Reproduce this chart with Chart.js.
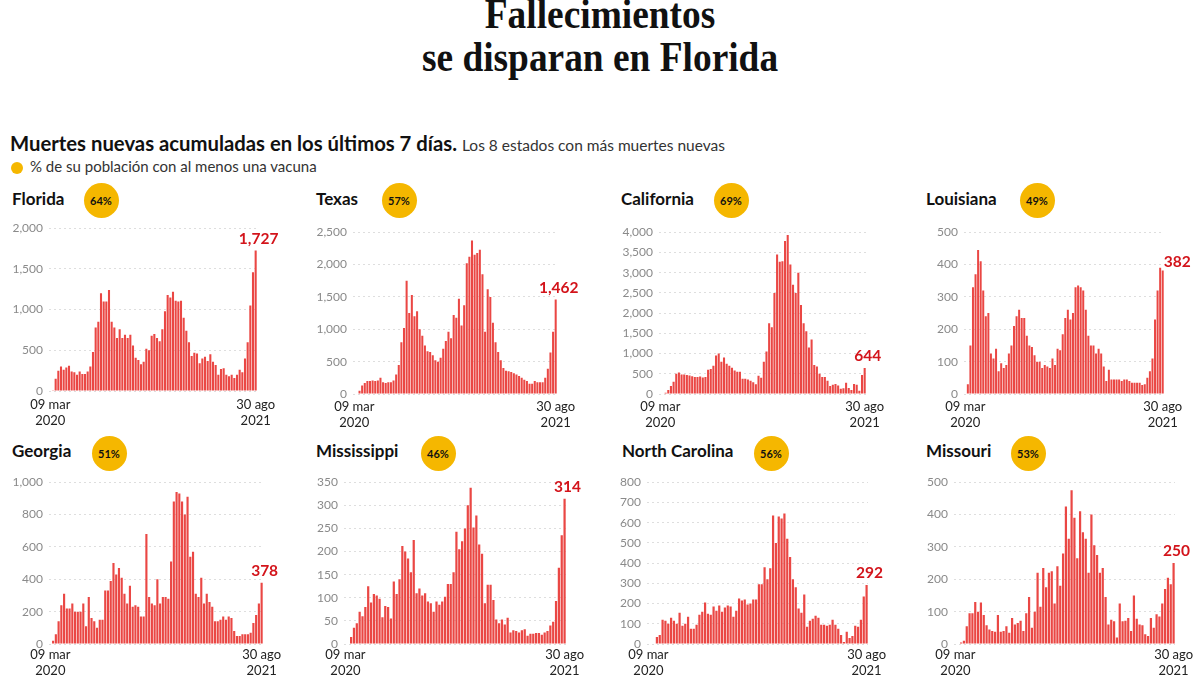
<!DOCTYPE html>
<html><head><meta charset="utf-8">
<script src="https://cdn.jsdelivr.net/npm/chart.js@4"></script>
<style>
body{margin:0;width:1200px;height:675px;background:#fff;position:relative;overflow:hidden;font-family:Lato,sans-serif;color:#111;}
.t{position:absolute;white-space:nowrap;}
.title{position:absolute;left:0;width:1200px;text-align:center;font-family:"Liberation Serif",serif;font-weight:bold;font-size:42px;height:42px;line-height:42px;transform:scaleX(0.89);transform-origin:600px 50%;color:#111;}
.badge{position:absolute;width:35px;height:35px;border-radius:50%;background:#f5b700;font-weight:bold;font-size:11px;line-height:35px;text-align:center;color:#111;}
.ptitle{position:absolute;font-weight:bold;font-size:17px;height:20px;line-height:20px;color:#111;}
.cw{position:absolute;}
</style></head><body>
<div class="title" style="top:-7px">Fallecimientos</div>
<div class="title" style="top:36px">se disparan en Florida</div>
<div class="t" style="left:10px;top:131px;height:24px;line-height:24px;font-size:20.3px;font-weight:bold;">Muertes nuevas acumuladas en los últimos 7 días. <span style="font-weight:normal;font-size:15.5px;color:#333;">Los 8 estados con más muertes nuevas</span></div>
<div style="position:absolute;left:11px;top:162px;width:12px;height:12px;border-radius:50%;background:#f5b700;"></div>
<div class="t" style="left:30px;top:157px;height:18px;line-height:18px;font-size:15px;color:#333;">% de su población con al menos una vacuna</div>
<script>
// ---- categories: weekly dates from 09 mar 2020 to 30 ago 2021 ----
const weekStart = new Date(Date.UTC(2020, 2, 9));
const weeks = [];
for (let i = 0; i < 78; i++) { const d = new Date(weekStart.getTime() + i * 7 * 864e5); weeks.push(d.toISOString().slice(0, 10)); }
const xFirstLabel = ['09 mar', '2020'];
const xLastLabel = ['30 ago', '2021'];

// ---- series (weekly new deaths, 7-day sums) ----
const florida = [0,10,150,250,300,260,290,310,240,230,200,240,210,210,240,300,480,780,850,1200,1100,1100,1240,850,780,650,760,650,690,650,690,560,410,380,330,360,520,500,680,700,650,610,760,980,1180,1150,1220,1110,1100,1110,900,740,600,430,470,460,340,400,420,370,450,360,320,200,270,280,200,180,200,160,200,260,230,400,600,1050,1460,1727];
const texas = [0,0,50,130,170,200,200,210,200,210,250,180,170,180,180,210,300,450,800,1020,1750,1250,1530,1200,1280,1000,900,750,660,650,600,520,500,560,700,820,960,860,1220,1180,1470,1060,1370,2020,2120,2370,2150,2180,2230,1850,960,1620,1500,1100,800,650,520,400,360,350,340,320,300,280,250,220,200,160,160,200,180,180,180,250,390,640,960,1462];
const california = [0,0,30,100,200,300,500,530,480,480,470,460,440,420,420,430,410,420,600,620,700,950,1000,800,900,750,700,650,580,550,550,380,380,360,330,290,240,450,400,800,1050,1750,1650,2500,3450,3270,3280,3780,3930,3200,2700,2500,3000,2200,1750,1550,1150,1350,720,680,500,420,420,330,200,230,250,210,130,140,280,150,100,250,230,80,470,644];
const louisiana = [0,30,150,330,370,445,410,320,240,250,125,110,140,70,95,80,90,125,150,210,240,260,235,235,180,150,145,120,100,100,80,90,85,80,110,90,140,135,185,235,260,230,250,330,335,330,320,260,180,150,150,125,140,125,85,40,75,45,45,45,45,40,45,45,40,35,35,35,35,28,30,50,70,110,230,320,390,382];
const georgia = [0,20,60,140,240,310,220,220,250,200,200,200,250,110,290,160,140,100,150,150,330,330,390,500,430,470,410,310,250,360,230,240,230,170,170,680,290,250,240,400,250,290,290,280,510,880,940,930,880,800,910,540,570,310,290,410,250,310,260,230,140,140,150,170,150,170,160,80,50,50,60,60,60,70,130,180,250,378];
const mississippi = [0,0,15,35,45,70,60,80,125,90,108,105,98,58,82,80,55,135,108,140,212,200,185,155,225,110,120,105,110,92,88,70,92,85,92,102,130,130,155,243,205,222,250,300,338,252,278,215,195,88,128,128,95,53,45,53,42,57,25,30,28,25,30,32,18,22,22,24,24,20,25,28,40,48,93,165,235,314];
const northCarolina = [0,0,0,35,45,120,115,100,130,115,100,155,90,100,135,75,75,95,145,160,205,150,145,185,165,190,160,180,190,185,135,165,225,215,220,195,200,220,220,295,295,380,320,375,635,500,630,620,645,520,430,320,280,175,155,245,85,115,125,140,130,95,95,90,95,120,95,75,45,10,60,30,40,90,85,120,235,292];
const missouri = [0,0,5,10,55,95,95,130,100,128,90,58,45,40,38,90,38,40,55,35,80,60,65,72,40,95,145,50,100,220,115,235,175,220,225,125,240,180,280,425,325,475,390,265,410,345,325,220,400,305,275,220,235,145,60,75,70,20,125,70,72,80,40,150,78,60,58,30,25,80,50,92,85,125,170,205,185,250];

// ---- names, vaccination share, y-axis maxima / steps ----
const stateNames = ['Florida','Texas','California','Louisiana','Georgia','Mississippi','North Carolina','Missouri'];
const vaccinated = ['64%','57%','69%','49%','51%','46%','56%','53%'];
const yMax = [2000,2500,4000,500,1000,350,800,500];
const yStep = [500,500,500,100,200,50,100,100];
const seriesList = [florida, texas, california, louisiana, georgia, mississippi, northCarolina, missouri];

// ---- layout (positions only) ----
const layoutPanels = [
  {cl:0,   pL:49,  pR:257,  pT:227, pB:391, tx:12,  ty:189, bx:101,  by:200, xpad:6},
  {cl:305, pL:353, pR:557,  pT:231, pB:394, tx:316, ty:189, bx:399,  by:200, xpad:5},
  {cl:610, pL:659, pR:866,  pT:231, pB:394, tx:621, ty:189, bx:731,  by:200, xpad:5},
  {cl:915, pL:964, pR:1164, pT:231, pB:394, tx:926, ty:189, bx:1037, by:200, xpad:5, side:'right'},
  {cl:0,   pL:49,  pR:263,  pT:481, pB:644, tx:12,  ty:441, bx:109,  by:453, xpad:3},
  {cl:305, pL:344, pR:566,  pT:481, pB:644, tx:316, ty:441, bx:438,  by:453, xpad:3},
  {cl:610, pL:647, pR:868,  pT:481, pB:644, tx:622, ty:441, bx:771,  by:453, xpad:3},
  {cl:915, pL:954, pR:1175, pT:481, pB:644, tx:926, ty:441, bx:1028, by:453, xpad:3}
];

const BAR = '#ea4744';
const RED = '#d3141b';

const valueLabel = {
  id: 'vl',
  afterDatasetsDraw(chart) {
    const o = chart.options.plugins.vl || {};
    const meta = chart.getDatasetMeta(0);
    const i = meta.data.length - 1;
    const bar = meta.data[i];
    const v = chart.data.datasets[0].data[i];
    const ctx = chart.ctx;
    ctx.save();
    ctx.font = 'bold 15.5px Lato';
    ctx.fillStyle = RED;
    const txt = v.toLocaleString('en-US');
    if (o.side === 'right') {
      ctx.textAlign = 'left'; ctx.textBaseline = 'bottom';
      ctx.fillText(txt, bar.x + 1, bar.y - 1);
    } else {
      ctx.textAlign = 'center'; ctx.textBaseline = 'bottom';
      ctx.fillText(txt, bar.x + 3, bar.y - 4);
    }
    ctx.restore();
  }
};

layoutPanels.forEach((p, k) => {
  const t = document.createElement('div');
  t.className = 'ptitle'; t.style.left = p.tx + 'px'; t.style.top = p.ty + 'px';
  t.textContent = stateNames[k]; document.body.appendChild(t);
  const b = document.createElement('div');
  b.className = 'badge'; b.style.left = (p.bx - 17.5) + 'px'; b.style.top = (p.by - 17.5) + 'px';
  b.textContent = vaccinated[k]; document.body.appendChild(b);

  const padTop = 12, xh = 40;
  const ct = p.pT - padTop;
  const cw = (p.cl === 915) ? 285 : 295;
  const ch = p.pB - ct + xh;
  const wrap = document.createElement('div');
  wrap.className = 'cw';
  wrap.style.left = p.cl + 'px'; wrap.style.top = ct + 'px';
  wrap.style.width = cw + 'px'; wrap.style.height = ch + 'px';
  const c = document.createElement('canvas');
  wrap.appendChild(c); document.body.appendChild(wrap);
  const N = weeks.length;
  new Chart(c, {
    type: 'bar',
    data: { labels: weeks, datasets: [{ data: seriesList[k], backgroundColor: BAR, barPercentage: 0.78, categoryPercentage: 1 }] },
    options: {
      responsive: true, maintainAspectRatio: false, animation: false, events: [],
      layout: { padding: { top: padTop, right: p.cl + cw - p.pR, left: 0, bottom: 0 } },
      plugins: { legend: { display: false }, tooltip: { enabled: false }, vl: { side: p.side } },
      scales: {
        x: {
          grid: { display: false, drawTicks: false }, border: { display: false },
          ticks: { autoSkip: false, maxRotation: 0, padding: p.xpad, color: '#222', font: { family: 'Lato', size: 13 },
            callback: (v) => v === 0 ? xFirstLabel : (v === N - 1 ? xLastLabel : '') },
          afterBuildTicks: s => { const tk = s.ticks; s.ticks = [tk[0], tk[tk.length - 1]]; },
          afterFit: s => { s.height = xh; }
        },
        y: {
          min: 0, max: yMax[k],
          ticks: { stepSize: yStep[k], padding: 6, color: '#8a8a8a', font: { family: 'Lato', size: 12 },
            callback: v => v.toLocaleString('en-US') },
          grid: { color: '#dedede', drawTicks: false },
          border: { display: false, dash: [2, 3] },
          afterFit: s => { s.width = p.pL - p.cl; }
        }
      }
    },
    plugins: [valueLabel]
  });
});
</script>
</body></html>
